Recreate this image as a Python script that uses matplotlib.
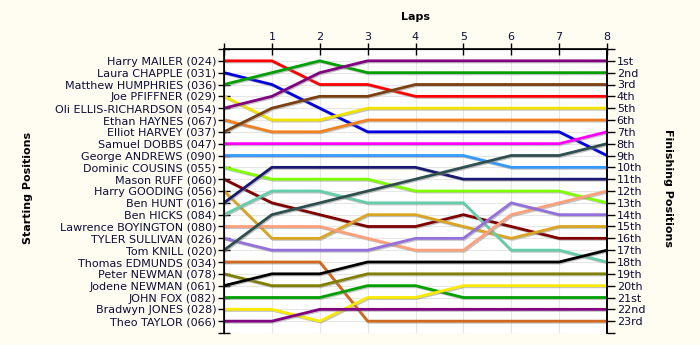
import matplotlib
matplotlib.use('Agg')
from matplotlib import pyplot as plt
import matplotlib.patheffects as pe

# drivers in starting order
drivers = ['Harry MAILER (024)', 'Laura CHAPPLE (031)', 'Matthew HUMPHRIES (036)',
           'Joe PFIFFNER (029)', 'Oli ELLIS-RICHARDSON (054)', 'Ethan HAYNES (067)',
           'Elliot HARVEY (037)', 'Samuel DOBBS (047)', 'George ANDREWS (090)',
           'Dominic COUSINS (055)', 'Mason RUFF (060)', 'Harry GOODING (056)',
           'Ben HUNT (016)', 'Ben HICKS (084)', 'Lawrence BOYINGTON (080)',
           'TYLER SULLIVAN (026)', 'Tom KNILL (020)', 'Thomas EDMUNDS (034)',
           'Peter NEWMAN (078)', 'Jodene NEWMAN (061)', 'JOHN FOX (082)',
           'Bradwyn JONES (028)', 'Theo TAYLOR (066)']

colors = ['#ff0000', '#0000e0', '#00a000', '#f2e200', '#800080', '#f08020',
          '#7b4010', '#ff00ff', '#3399ff', '#80ff00', '#800000', '#daa520',
          '#191970', '#66cdaa', '#ffa07a', '#9370db', '#2f4f4f', '#d2691e',
          '#808000', '#000000', '#00a000', '#f8ea00', '#800080']

laps = [0, 1, 2, 3, 4, 5, 6, 7, 8]

# running position at the end of each lap (lap 0 = grid)
positions = [
    [1, 1, 3, 3, 4, 4, 4, 4, 4],
    [2, 3, 5, 7, 7, 7, 7, 7, 9],
    [3, 2, 1, 2, 2, 2, 2, 2, 2],
    [4, 6, 6, 5, 5, 5, 5, 5, 5],
    [5, 4, 2, 1, 1, 1, 1, 1, 1],
    [6, 7, 7, 6, 6, 6, 6, 6, 6],
    [7, 5, 4, 4, 3, 3, 3, 3, 3],
    [8, 8, 8, 8, 8, 8, 8, 8, 7],
    [9, 9, 9, 9, 9, 9, 10, 10, 10],
    [10, 11, 11, 11, 12, 12, 12, 12, 13],
    [11, 13, 14, 15, 15, 14, 15, 16, 16],
    [12, 16, 16, 14, 14, 15, 16, 15, 15],
    [13, 10, 10, 10, 10, 11, 11, 11, 11],
    [14, 12, 12, 13, 13, 13, 17, 17, 18],
    [15, 15, 15, 16, 17, 17, 14, 13, 12],
    [16, 17, 17, 17, 16, 16, 13, 14, 14],
    [17, 14, 13, 12, 11, 10, 9, 9, 8],
    [18, 18, 18, 23, 23, 23, 23, 23, 23],
    [19, 20, 20, 19, 19, 19, 19, 19, 19],
    [20, 19, 19, 18, 18, 18, 18, 18, 17],
    [21, 21, 21, 20, 20, 21, 21, 21, 21],
    [22, 22, 23, 21, 21, 20, 20, 20, 20],
    [23, 23, 22, 22, 22, 22, 22, 22, 22],
]

finish_labels = ['1st', '2nd', '3rd'] + [f'{i}th' for i in range(4, 21)] + ['21st', '22nd', '23rd']

bg = '#fffdf2'
txt = '#0c0c3a'
n = len(drivers)

fig = plt.figure(figsize=(7, 3.45), dpi=100, facecolor=bg)
ax = fig.add_axes([224 / 700, 1 - 333 / 345, (607 - 224) / 700, (333 - 49) / 345])
ax.set_facecolor('white')

shadow = [pe.SimpleLineShadow(offset=(0.8, -0.8), shadow_color='#888888', alpha=0.5), pe.Normal()]
for name, c, pos in zip(drivers, colors, positions):
    ax.plot(laps, pos, color=c, linewidth=2.0, solid_joinstyle='miter',
            path_effects=shadow, zorder=3)

ax.set_xlim(0, 8)
ax.set_ylim(n + 1, 0)

ax.xaxis.tick_top()
ax.set_xticks(laps)
ax.set_xticklabels([''] + [str(l) for l in laps[1:]], fontsize=8, color=txt)
ax.tick_params(axis='x', direction='inout', length=8, width=1, pad=1)

ticks = list(range(0, n + 2))
ax.set_yticks(ticks)
ax.set_yticklabels([''] + drivers + [''], fontsize=8, color=txt)
ax.tick_params(axis='y', direction='inout', length=9, width=1, pad=1)

ax.grid(True, color='#e6e6e6', linewidth=0.8, zorder=0)
ax.set_axisbelow(True)
ax.spines['bottom'].set_visible(False)
for s in ['left', 'right', 'top']:
    ax.spines[s].set_linewidth(1.2)

ax2 = ax.twinx()
ax2.set_ylim(n + 1, 0)
ax2.set_yticks(ticks)
ax2.set_yticklabels([''] + finish_labels + [''], fontsize=8, color=txt)
ax2.tick_params(axis='y', direction='out', length=6, width=1, pad=1)
ax2.spines['bottom'].set_visible(False)
ax2.spines['right'].set_linewidth(1.2)

fig.text(415 / 700, 1 - 17 / 345, 'Laps', fontsize=8, fontweight='bold',
         color='black', ha='center', va='center')
fig.text(28 / 700, 1 - 188 / 345, 'Starting Positions', fontsize=8, fontweight='bold',
         rotation=90, ha='center', va='center')
fig.text(668 / 700, 1 - 188 / 345, 'Finishing Positions', fontsize=8, fontweight='bold',
         rotation=270, ha='center', va='center')

fig.savefig('out.png', dpi=100, facecolor=bg)
